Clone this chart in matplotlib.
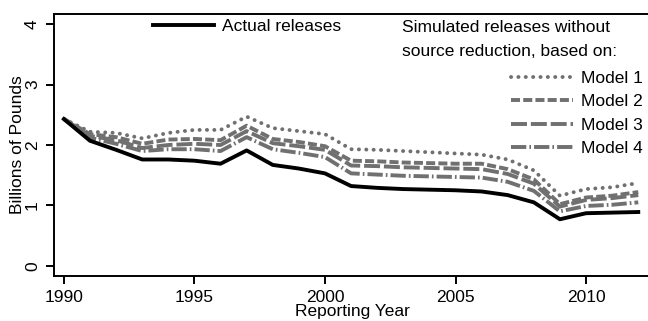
import matplotlib
matplotlib.use('Agg')
import matplotlib.pyplot as plt
from matplotlib.lines import Line2D

plt.rcParams['font.family'] = ['Liberation Sans', 'DejaVu Sans']
plt.rcParams['lines.scale_dashes'] = False

years = list(range(1990, 2013))
actual = [2.43, 2.07, 1.92, 1.76, 1.76, 1.74, 1.69, 1.91, 1.67, 1.61, 1.53, 1.32,
          1.29, 1.27, 1.26, 1.25, 1.23, 1.17, 1.05, 0.77, 0.87, 0.88, 0.89]
model1 = [2.43, 2.22, 2.20, 2.11, 2.20, 2.25, 2.25, 2.47, 2.28, 2.23, 2.18, 1.93,
          1.92, 1.90, 1.88, 1.86, 1.84, 1.76, 1.58, 1.16, 1.27, 1.30, 1.37]
model2 = [2.43, 2.18, 2.13, 2.02, 2.09, 2.10, 2.08, 2.32, 2.10, 2.05, 1.98, 1.74,
          1.73, 1.71, 1.70, 1.69, 1.69, 1.60, 1.43, 1.02, 1.13, 1.16, 1.22]
model3 = [2.43, 2.15, 2.08, 1.95, 2.00, 2.02, 2.00, 2.23, 2.03, 1.98, 1.92, 1.66,
          1.65, 1.63, 1.62, 1.61, 1.60, 1.52, 1.36, 0.98, 1.09, 1.12, 1.17]
model4 = [2.43, 2.12, 2.02, 1.90, 1.93, 1.93, 1.90, 2.13, 1.93, 1.87, 1.80, 1.53,
          1.51, 1.49, 1.48, 1.47, 1.46, 1.39, 1.24, 0.90, 0.99, 1.01, 1.05]
model_names = ['Model 1', 'Model 2', 'Model 3', 'Model 4']

gray = '#707070'
lw = 2.8
styles = [(0, (0.1, 5.2)), (0, (6.5, 2.3)), (0, (11.5, 2.8)), (0, (11, 2.2, 1.2, 2.2))]
caps = ['round', 'butt', 'butt', 'butt']

fig = plt.figure(figsize=(6.48, 3.21), dpi=100)
ax = fig.add_axes([54 / 648, 45 / 321, 596 / 648, 262 / 321])

for vals, ls, cap in zip([model1, model2, model3, model4], styles, caps):
    ax.plot(years, vals, color=gray, lw=lw, linestyle=ls, dash_capstyle=cap)
ax.plot(years, actual, color='black', lw=lw)

ax.set_xlim(1989.62, 2012.45)
ax.set_ylim(-0.17, 4.17)
ax.set_xticks([1990, 1995, 2000, 2005, 2010])
ax.set_yticks([0, 1, 2, 3, 4])
ax.tick_params(labelsize=12.5, length=6, width=1.4, direction='out', pad=4)
for lab in ax.get_yticklabels():
    lab.set_rotation(90)
    lab.set_va('center')
for s in ax.spines.values():
    s.set_linewidth(1.4)
ax.set_xlabel('Reporting Year', fontsize=12.5)
ax.xaxis.set_label_coords(0.5, -0.105)
ax.set_ylabel('Billions of Pounds', fontsize=12.5)
ax.yaxis.set_label_coords(-0.049, 0.5)

# legend: actual releases
h_act = [Line2D([], [], color='black', lw=lw)]
leg1 = ax.legend(h_act, ['Actual releases'], loc='upper left', frameon=False,
                 bbox_to_anchor=(153 / 648, 1 - 19 / 321), bbox_transform=fig.transFigure,
                 fontsize=12.5, handlelength=3.5, handletextpad=0.45, borderpad=0, borderaxespad=0)
ax.add_artist(leg1)

ax.text(402 / 648, 1 - 27 / 321, 'Simulated releases without', transform=fig.transFigure,
        fontsize=12.5, va='center', ha='left')
ax.text(402 / 648, 1 - 51 / 321, 'source reduction, based on:', transform=fig.transFigure,
        fontsize=12.5, va='center', ha='left')

h_mod = [Line2D([], [], color=gray, lw=lw, linestyle=ls, dash_capstyle=cap)
         for ls, cap in zip(styles, caps)]
ax.legend(h_mod, model_names, loc='upper right',
          frameon=False, bbox_to_anchor=(643 / 648, 1 - 71 / 321), bbox_transform=fig.transFigure,
          fontsize=12.5, handlelength=3.6, handletextpad=0.45, labelspacing=0.47,
          borderpad=0, borderaxespad=0)

fig.savefig('out.png', dpi=100)
